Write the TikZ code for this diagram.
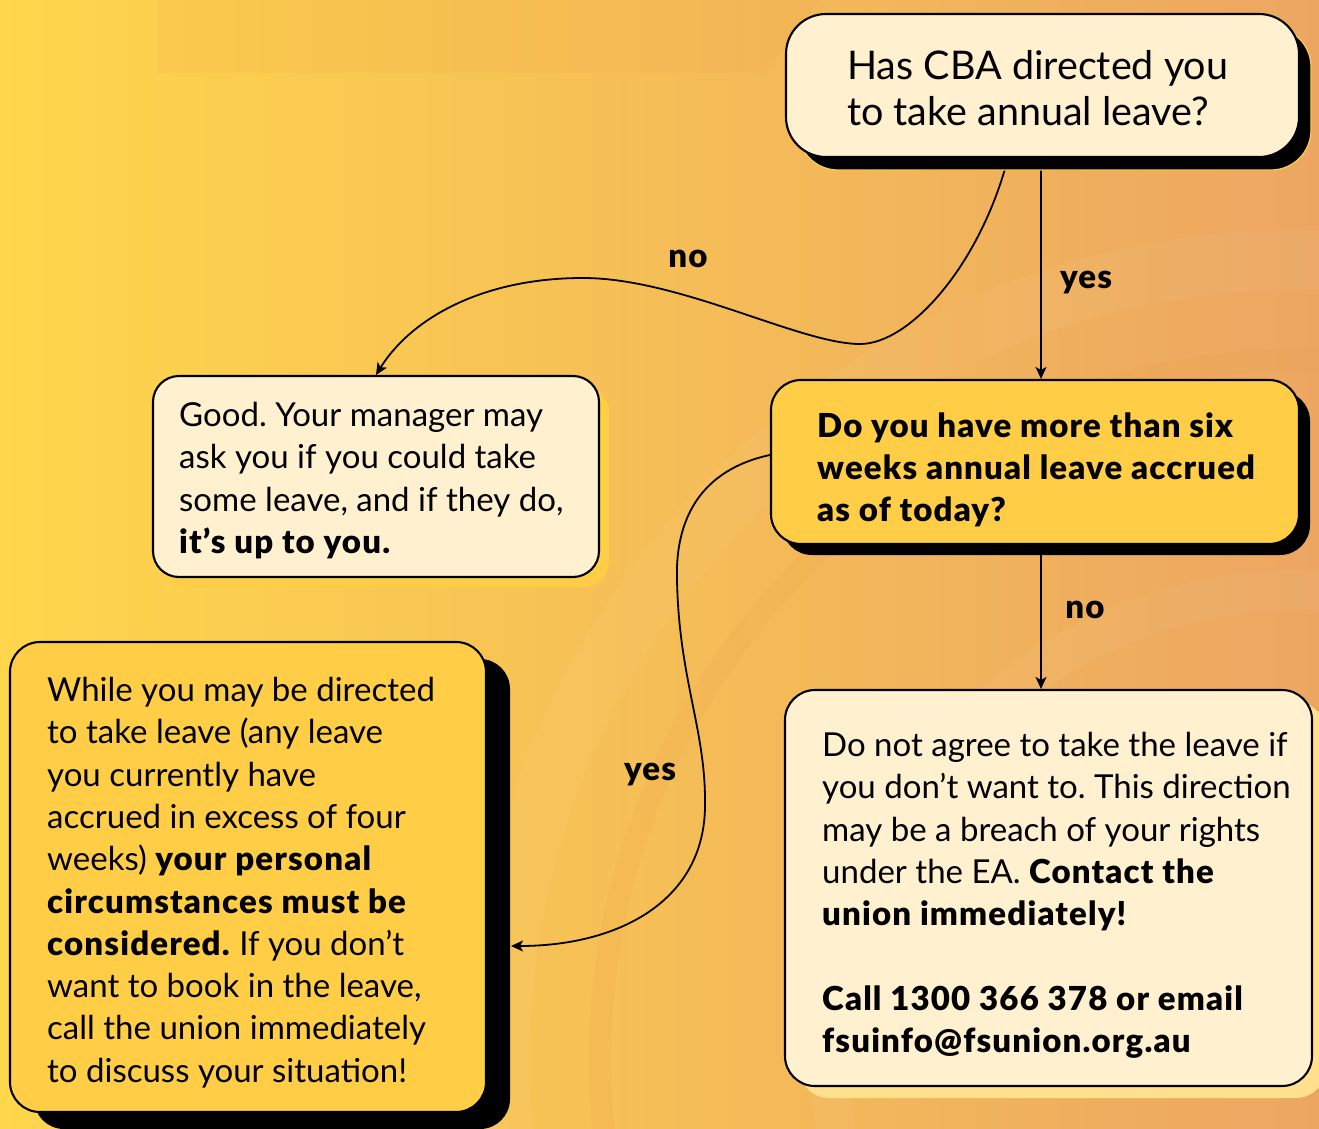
\documentclass[tikz,border=0pt]{standalone}
\usepackage{fontspec}
\setmainfont{Lato}[BoldFont={Lato Black}, BoldFeatures={LetterSpace=3.5}]
\usetikzlibrary{shadows,arrows.meta}

\definecolor{bgL}{RGB}{255,214,76}
\definecolor{bgM}{RGB}{243,188,90}
\definecolor{bgR}{RGB}{236,166,98}
\definecolor{cream}{RGB}{255,241,208}
\definecolor{gold}{RGB}{255,206,70}
\definecolor{palegold}{RGB}{255,224,140}
\definecolor{deep}{RGB}{232,150,60}

\pgfdeclarelayer{bg}
\pgfdeclarelayer{links}
\pgfsetlayers{bg,links,main}

\tikzset{
  card/.style={draw=black, line width=2.1pt, inner sep=0pt},
  body/.style={inner sep=0pt, align=left, font=\fontsize{33}{42.3}\selectfont},
  lbl/.style={inner sep=0pt, anchor=base, font=\fontsize{33}{40}\selectfont\bfseries},
  arr/.style={line width=1.8pt, -{Stealth[length=12pt,width=11pt,inset=3pt]}},
}

\begin{document}
\frenchspacing
\begin{tikzpicture}[x=1pt,y=-1pt]
\useasboundingbox (0,0) rectangle (1319,1129);

\begin{pgfonlayer}{bg}
  % warm horizontal gradient
  \shade[left color=bgL, middle color=bgM, right color=bgR] (0,0) rectangle (1319,1129);
  % deeper band along the top
  \fill[deep, opacity=0.10] (157,0) -- (820,0) -- (765,73) -- (157,73) -- cycle;
  % faint concentric arcs
  \draw[deep, opacity=0.10, line width=22pt] (1300,1060) circle[radius=700];
  \draw[white, opacity=0.04, line width=60pt] (1300,1060) circle[radius=800];
  \draw[white, opacity=0.04, line width=40pt] (1300,1060) circle[radius=470];
\end{pgfonlayer}

% question: directed?
\node[card, fill=cream, rounded corners=40pt, minimum width=513pt, minimum height=143pt,
      general shadow={fill=black, draw=gold, line width=1.2pt, shadow xshift=12pt, shadow yshift=-13pt}]
  (direct) at (1042.5,85.5) {};
\node[inner sep=0pt, align=left, anchor=north west, font=\fontsize{39.5}{46}\selectfont]
  (directtxt) at (847,50) {Has CBA directed you\\to take annual leave?};

% answer: no direction
\node[card, fill=cream, rounded corners=26pt, minimum width=446pt, minimum height=201pt,
      general shadow={fill=gold, shadow xshift=10pt, shadow yshift=-10pt}]
  (good) at (376,476.5) {};
\node[body, anchor=north west] (goodtxt) at (179,402)
  {Good. Your manager may\\ask you if you could take\\some leave, and if they do,\\\textbf{it’s up to you.}};

% question: six weeks?
\node[card, fill=gold, rounded corners=30pt, minimum width=528pt, minimum height=164pt,
      general shadow={fill=black, shadow xshift=11pt, shadow yshift=-11pt}]
  (six) at (1035,462) {};
\node[body, anchor=north west, font=\fontsize{33}{42}\selectfont\bfseries] (sixtxt) at (817,412)
  {Do you have more than six\\weeks annual leave accrued\\as of today?};

% answer: more than six weeks
\node[card, fill=gold, rounded corners=30pt, minimum width=476pt, minimum height=470pt,
      general shadow={fill=black, shadow xshift=24pt, shadow yshift=-17pt}]
  (excess) at (248,877) {};
\node[body, anchor=north west] (excesstxt) at (47,677)
  {While you may be directed\\to take leave (any leave\\you currently have\\accrued in excess of four\\weeks) \textbf{your personal}\\\textbf{circumstances must be}\\\textbf{considered.} If you don’t\\want to book in the leave,\\call the union immediately\\to discuss your situation!};

% answer: six weeks or less
\node[card, fill=cream, rounded corners=30pt, minimum width=527pt, minimum height=396pt,
      general shadow={fill=palegold, shadow xshift=14pt, shadow yshift=-12pt}]
  (refuse) at (1048.5,888) {};
\node[body, anchor=north west] (refusetxt) at (822,732)
  {Do not agree to take the leave if\\you don’t want to. This direction\\may be a breach of your rights\\under the EA. \textbf{Contact the}\\\textbf{union immediately!}\\[42.3pt]\textbf{Call 1300 366 378 or email}\\\textbf{fsuinfo@fsunion.org.au}};

% connectors
\coordinate (colA) at (1041,0);
\coordinate (colB) at (1008,0);
\coordinate (colC) at (376,0);
\coordinate (yesend) at (511,946);
\begin{pgfonlayer}{links}
  \draw[arr] (direct.south -| colA) -- (six.north -| colA);
  \draw[arr] (six.south -| colA) -- (refuse.north -| colA);
  \draw[arr] (direct.south -| colB)
      .. controls (980,265) and (910,344) .. (860,344)
      .. controls (800,344) and (680,278) .. (583,278)
      .. controls (480,278) and (410,320) .. (good.north -| colC);
  \draw[arr] ([yshift=7pt]six.west)
      .. controls (700,470) and (675,520) .. (677,580)
      .. controls (679,680) and (706,730) .. (705,805)
      .. controls (705,900) and (620,946) .. (yesend);
\end{pgfonlayer}

% branch labels
\node[lbl] (lno1) at (688,267) {no};
\node[lbl] (lyes1) at (1086,288) {yes};
\node[lbl] (lno2) at (1085,618) {no};
\node[lbl] (lyes2) at (650,780) {yes};
\end{tikzpicture}
\end{document}
